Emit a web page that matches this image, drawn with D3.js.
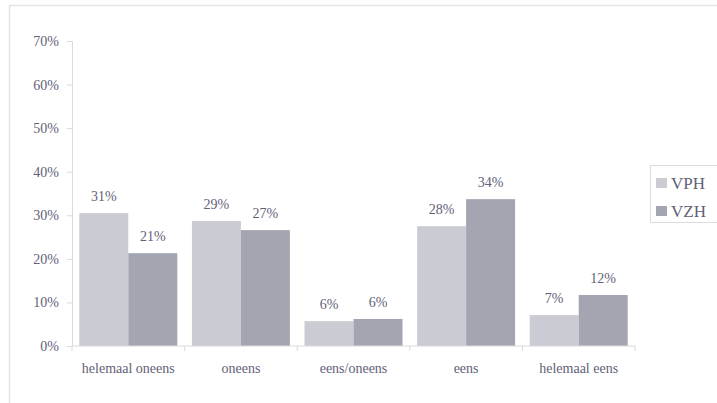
<!DOCTYPE html>
<html>
<head>
<meta charset="utf-8">
<script src="https://cdn.jsdelivr.net/npm/d3@7"></script>
<style>
  body { margin: 0; background: #fff; }
  svg text { font-family: "Liberation Serif", "Times New Roman", serif; fill: #5f6178; }
</style>
</head>
<body>
<svg id="chart" width="717" height="403"></svg>
<script>
// categories and values (percent)
const categories = ["helemaal oneens", "oneens", "eens/oneens", "eens", "helemaal eens"];
const series = ["VPH", "VZH"];
const vph = [30.5, 28.7, 5.7, 27.5, 7.1];
const vzh = [21.3, 26.6, 6.2, 33.7, 11.7];
const vphLabels = ["31%", "29%", "6%", "28%", "7%"];
const vzhLabels = ["21%", "27%", "6%", "34%", "12%"];
const yTicks = [0, 10, 20, 30, 40, 50, 60, 70];

const colors = { VPH: "#cbccd3", VZH: "#a3a5b1" };
const serif = "'Liberation Serif', 'Times New Roman', serif";

const svg = d3.select("#chart");

// outer frame
svg.append("rect")
    .attr("x", 9.5).attr("y", 5.5)
    .attr("width", 720).attr("height", 410)
    .attr("fill", "none").attr("stroke", "#e4e4e6").attr("stroke-width", 1.5);

const margin = { left: 72, right: 82, top: 41, bottom: 57 };
const width = 717 - margin.left - margin.right;
const height = 403 - margin.top - margin.bottom;

const g = svg.append("g").attr("transform", `translate(${margin.left},${margin.top})`);

const x0 = d3.scaleBand().domain(categories).range([0, width]).paddingInner(0.13).paddingOuter(0.065);
const x1 = d3.scaleBand().domain(series).range([0, x0.bandwidth()]);
const y = d3.scaleLinear().domain([0, 70]).range([height, 0]);

// y axis
const yAxis = g.append("g")
    .call(d3.axisLeft(y).tickValues(yTicks).tickFormat(d => d + "%").tickSize(5).tickPadding(8))
    .attr("font-family", serif);
yAxis.select(".domain").attr("stroke", "#d9d9de");
yAxis.selectAll(".tick line").attr("stroke", "#d9d9de");
yAxis.selectAll("text").style("font-size", "14px").attr("fill", "#5f6178");

// bars
const rows = categories.map((c, i) => ({ cat: c, values: [
    { key: "VPH", v: vph[i], label: vphLabels[i] },
    { key: "VZH", v: vzh[i], label: vzhLabels[i] }
]}));

const groups = g.selectAll(".grp").data(rows).enter().append("g")
    .attr("transform", d => `translate(${x0(d.cat)},0)`);

groups.selectAll("rect").data(d => d.values).enter().append("rect")
    .attr("x", d => x1(d.key))
    .attr("y", d => y(d.v))
    .attr("width", x1.bandwidth())
    .attr("height", d => height - y(d.v))
    .attr("fill", d => colors[d.key]);

groups.selectAll("text").data(d => d.values).enter().append("text")
    .attr("x", d => x1(d.key) + x1.bandwidth() / 2)
    .attr("y", d => y(d.v) - 12)
    .attr("text-anchor", "middle")
    .style("font-size", "14px")
    .text(d => d.label);

// x axis
const step = width / categories.length;
const xAxis = g.append("g").attr("transform", `translate(0,${height})`);
xAxis.append("line").attr("x1", 0).attr("x2", width).attr("stroke", "#d9d9de");
xAxis.selectAll(".tk").data(d3.range(categories.length + 1)).enter().append("line")
    .attr("x1", d => d * step).attr("x2", d => d * step)
    .attr("y1", 0).attr("y2", 5).attr("stroke", "#d9d9de");
xAxis.selectAll(".lbl").data(categories).enter().append("text")
    .attr("x", d => x0(d) + x0.bandwidth() / 2)
    .attr("y", 27)
    .attr("text-anchor", "middle")
    .style("font-size", "14px")
    .text(d => d);

// legend
const legend = svg.append("g").attr("transform", "translate(650,165)");
legend.append("rect").attr("x", 0.5).attr("y", 0.5).attr("width", 80).attr("height", 57)
    .attr("fill", "#fff").attr("stroke", "#dcdce0");
series.forEach((s, i) => {
    legend.append("rect").attr("x", 6).attr("y", 13 + i * 28).attr("width", 11).attr("height", 10)
        .attr("fill", colors[s]);
    legend.append("text").attr("x", 21).attr("y", 24 + i * 28)
        .style("font-size", "17px").text(s);
});
</script>
</body>
</html>
